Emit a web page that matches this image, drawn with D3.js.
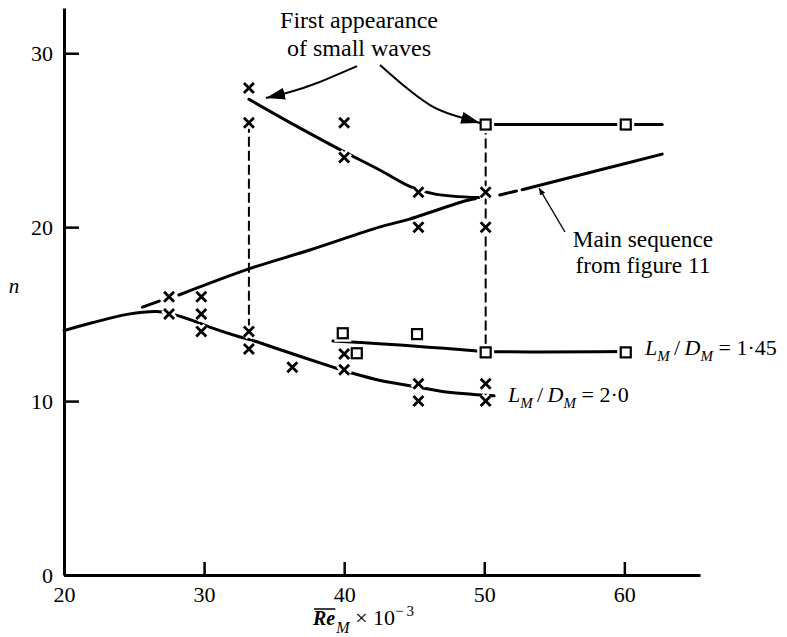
<!DOCTYPE html>
<html>
<head>
<meta charset="utf-8">
<script src="https://cdn.jsdelivr.net/npm/d3@7"></script>
<style>
body { margin: 0; background: #fff; }
svg { display: block; font-family: "Liberation Serif", "DejaVu Serif", serif; }
</style>
</head>
<body>
<script>
var width = 787, height = 637;

// axis ticks
var xTicks = [20, 30, 40, 50, 60];
var yTicks = [0, 10, 20, 30];

// measured points, x = Re_M * 1e-3, y = n
var crossRe = [27.5, 27.5, 29.8, 29.8, 29.8, 33.2, 33.2, 33.2, 33.2, 36.3, 40, 40, 40, 40, 45.3, 45.3, 45.3, 45.3, 50.1, 50.1, 50.1, 50.1];
var crossN  = [16, 15, 16, 15, 14, 28, 26, 14, 13, 11.95, 26, 24, 12.7, 11.8, 22, 20, 11, 10, 22, 20, 11, 10];
var squareRe = [39.9, 40.9, 45.2, 50.1, 60.1, 50.1, 60.1];
var squareN  = [13.9, 12.75, 13.85, 12.8, 12.8, 25.9, 25.9];

// fitted curves (null = break in the pen line)
var mainSequence = [[25.6, 15.4], [26.8, 15.75], null,
    [28.2, 16.1], [33.2, 17.6], [37.6, 18.7], [42.5, 20.0], [44.6, 20.45], [48.6, 21.5], [49.4, 21.65], null,
    [51.1, 21.85], [52.3, 22.08], null,
    [52.7, 22.15], [58.3, 23.3], [62.7, 24.2]];
var smallWaves = [[33.2, 27.35], [36.5, 25.85], [39.6, 24.5], [42.5, 23.3], [44.8, 22.3], [46.5, 21.9], [49.6, 21.7]];
var curveLD20 = [[20, 14.05], [22, 14.5], [24.6, 15.0], [26.6, 15.15], [27.5, 15.05], [29.3, 14.6], [30.4, 14.25],
    [32.5, 13.7], [33.2, 13.55], [36.3, 12.72], [39.2, 11.95], [40.6, 11.6], [42.5, 11.2], [45.3, 10.8], [47, 10.55], [50.7, 10.3]];
var curveLD145 = [[39.2, 13.45], [42.5, 13.3], [46, 13.1], [49.3, 12.9], [50.1, 12.85], [60.1, 12.85]];
var topLD145 = [[50.1, 25.9], [60.1, 25.9], [62.7, 25.9]];
var dropRe = [33.2, 50.1];
var dropTop = [26, 25.9];
var dropBottom = [14, 12.8];

// annotation arrows
var arrowLeft = [[40.92, 29.26], [38.06, 28.29], [36.13, 27.77], [34.42, 27.42]];
var arrowRight = [[42.56, 29.32], [44.2, 28.17], [46.13, 27.02], [47.77, 26.45], [49.7, 25.99]];
var leader = [[55.76, 19.72], [53.91, 22.25]];

var svg = d3.select("body").append("svg").attr("width", width).attr("height", height);

var x = d3.scaleLinear().domain([20, 65.4]).range([64, 700]);
var y = d3.scaleLinear().domain([0, 32.6]).range([575, 8]);

var defs = svg.append("defs");
defs.append("marker").attr("id", "head")
    .attr("viewBox", "0 -6 19 12").attr("refX", 19).attr("refY", 0)
    .attr("markerUnits", "userSpaceOnUse").attr("markerWidth", 19).attr("markerHeight", 12)
    .attr("orient", "auto")
    .append("path").attr("d", "M0,-6L19,0L0,6Z").attr("fill", "#000");
defs.append("marker").attr("id", "tiny")
    .attr("viewBox", "0 -3 7 6").attr("refX", 7).attr("refY", 0)
    .attr("markerUnits", "userSpaceOnUse").attr("markerWidth", 7).attr("markerHeight", 6)
    .attr("orient", "auto")
    .append("path").attr("d", "M0,-3L7,0L0,3Z").attr("fill", "#000");

// axes
var xAxis = svg.append("g")
    .attr("transform", "translate(0," + y(0) + ")")
    .call(d3.axisBottom(x).tickValues(xTicks).tickSizeInner(-13).tickSizeOuter(0).tickPadding(11));
var yAxis = svg.append("g")
    .attr("transform", "translate(" + x(20) + ",0)")
    .call(d3.axisLeft(y).tickValues(yTicks).tickSizeInner(-15).tickSizeOuter(0).tickPadding(11));

[xAxis, yAxis].forEach(function (g) {
    g.attr("font-family", null).attr("font-size", 22);
    g.select(".domain").attr("stroke-width", 3);
    g.selectAll(".tick line").attr("stroke-width", 2.5);
});

// curves
var line = d3.line()
    .defined(function (d) { return d !== null; })
    .x(function (d) { return x(d[0]); })
    .y(function (d) { return y(d[1]); })
    .curve(d3.curveCatmullRom);

[mainSequence, smallWaves, curveLD20, curveLD145, topLD145].forEach(function (c) {
    svg.append("path")
        .attr("d", line(c))
        .attr("fill", "none")
        .attr("stroke", "#000")
        .attr("stroke-width", 3)
        .attr("stroke-linecap", "round");
});

svg.selectAll(".drop")
    .data(dropRe)
    .enter().append("line")
    .attr("class", "drop")
    .attr("x1", function (d) { return x(d); })
    .attr("x2", function (d) { return x(d); })
    .attr("y1", function (d, i) { return y(dropTop[i]); })
    .attr("y2", function (d, i) { return y(dropBottom[i]); })
    .attr("stroke", "#000")
    .attr("stroke-width", 2)
    .attr("stroke-dasharray", "10,4");

// markers with white halo so the pen lines break around them
var crossPath = "M-5,-5L5,5M-5,5L5,-5";
var crosses = crossRe.map(function (d, i) { return [d, crossN[i]]; });
var squares = squareRe.map(function (d, i) { return [d, squareN[i]]; });

svg.selectAll(".halo")
    .data(crosses)
    .enter().append("path")
    .attr("class", "halo")
    .attr("transform", function (d) { return "translate(" + x(d[0]) + "," + y(d[1]) + ")"; })
    .attr("d", crossPath)
    .attr("stroke", "#fff")
    .attr("stroke-width", 8);

svg.selectAll(".sqhalo")
    .data(squares)
    .enter().append("rect")
    .attr("class", "sqhalo")
    .attr("x", function (d) { return x(d[0]) - 5; })
    .attr("y", function (d) { return y(d[1]) - 5; })
    .attr("width", 10).attr("height", 10)
    .attr("fill", "#fff")
    .attr("stroke", "#fff")
    .attr("stroke-width", 7);

svg.selectAll(".cross")
    .data(crosses)
    .enter().append("path")
    .attr("class", "cross")
    .attr("transform", function (d) { return "translate(" + x(d[0]) + "," + y(d[1]) + ")"; })
    .attr("d", crossPath)
    .attr("stroke", "#000")
    .attr("stroke-width", 2.8);

svg.selectAll(".square")
    .data(squares)
    .enter().append("rect")
    .attr("class", "square")
    .attr("x", function (d) { return x(d[0]) - 5; })
    .attr("y", function (d) { return y(d[1]) - 5; })
    .attr("width", 10).attr("height", 10)
    .attr("fill", "#fff")
    .attr("stroke", "#000")
    .attr("stroke-width", 2.2);

// annotation arrows
var arrowLine = d3.line()
    .x(function (d) { return x(d[0]); })
    .y(function (d) { return y(d[1]); })
    .curve(d3.curveNatural);

[arrowLeft, arrowRight].forEach(function (a) {
    svg.append("path")
        .attr("d", arrowLine(a))
        .attr("fill", "none")
        .attr("stroke", "#000")
        .attr("stroke-width", 2)
        .attr("marker-end", "url(#head)");
});
svg.append("path")
    .attr("d", arrowLine(leader))
    .attr("fill", "none")
    .attr("stroke", "#000")
    .attr("stroke-width", 1.4)
    .attr("marker-end", "url(#tiny)");

// texts
var note = svg.append("text")
    .attr("text-anchor", "middle")
    .attr("font-size", 24);
note.append("tspan").attr("x", x(41.06)).attr("y", y(31.45)).text("First appearance");
note.append("tspan").attr("x", x(41.06)).attr("y", y(29.84)).text("of small waves");

var mainNote = svg.append("text")
    .attr("text-anchor", "middle")
    .attr("font-size", 23.3);
mainNote.append("tspan").attr("x", x(61.33)).attr("y", y(18.86)).text("Main sequence");
mainNote.append("tspan").attr("x", x(61.33)).attr("y", y(17.36)).text("from figure 11");

svg.append("text")
    .attr("x", 14).attr("y", 293)
    .attr("text-anchor", "middle")
    .attr("font-size", 21)
    .attr("font-style", "italic")
    .text("n");

function ratioLabel(px, py, value) {
    var t = svg.append("text").attr("x", px).attr("y", py).attr("font-size", 22);
    t.append("tspan").attr("font-style", "italic").text("L");
    t.append("tspan").attr("font-style", "italic").attr("font-size", 15).attr("dy", 6).text("M");
    t.append("tspan").attr("dy", -6).text("\u2009/\u2009");
    t.append("tspan").attr("font-style", "italic").text("D");
    t.append("tspan").attr("font-style", "italic").attr("font-size", 15).attr("dy", 6).text("M");
    t.append("tspan").attr("dy", -6).text(" = " + value);
}
ratioLabel(x(61.47), y(12.65), "1\u00b745");
ratioLabel(x(51.69), y(9.95), "2\u00b70");

// x axis title with overline on Re
var re = svg.append("text")
    .attr("x", 313).attr("y", 625)
    .attr("font-size", 20)
    .attr("font-style", "italic")
    .attr("font-weight", "bold")
    .text("Re");
var bb = re.node().getBBox();
svg.append("line")
    .attr("x1", bb.x + 2).attr("x2", bb.x + bb.width)
    .attr("y1", 609).attr("y2", 609)
    .attr("stroke", "#000").attr("stroke-width", 1.5);
var rest = svg.append("text")
    .attr("x", bb.x + bb.width + 1).attr("y", 625)
    .attr("font-size", 22);
rest.append("tspan").attr("font-style", "italic").attr("font-size", 16).attr("dy", 8).text("M");
rest.append("tspan").attr("dy", -8).text(" \u00d7 10");
rest.append("tspan").attr("font-size", 15).attr("dy", -9).text("\u2212\u20093");
</script>
</body>
</html>
